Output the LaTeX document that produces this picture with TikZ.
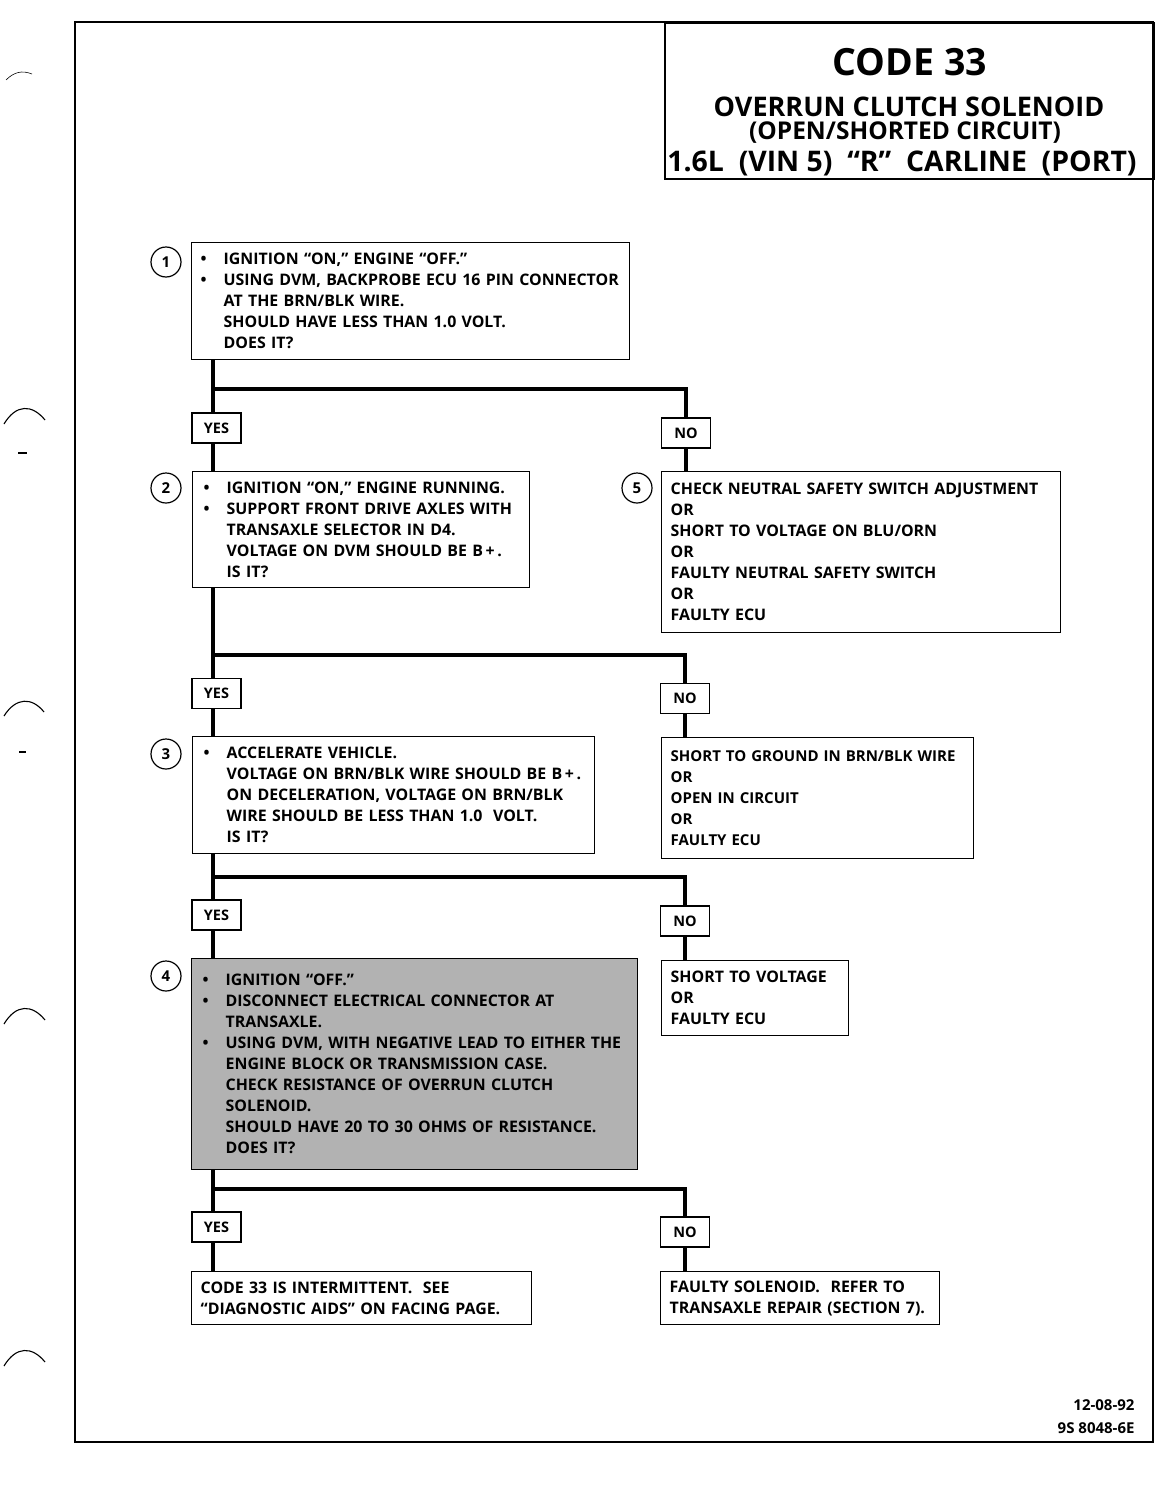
\documentclass[tikz,border=0pt]{standalone}
\usepackage{fontspec}
\setmainfont{Open Sans}
\newcommand\mybul{\makebox[24pt][l]{\hspace{1pt}\textbullet}}
\newcommand\myind{\hspace*{24pt}}
\begin{document}
\begin{tikzpicture}[x=1pt,y=-1pt,
  box/.style={draw, line width=1.4pt, anchor=north west, align=left, inner ysep=0pt,
    font=\bfseries\fontsize{15.9}{21}\selectfont},
  yn/.style={draw, line width=1.4pt, minimum width=49pt, minimum height=30pt, inner sep=0pt,
    font=\bfseries\fontsize{14.5}{16}\selectfont},
  num/.style={draw, circle, line width=1.2pt, minimum size=30pt, inner sep=0pt,
    font=\bfseries\fontsize{15}{16}\selectfont},
  ttl/.style={anchor=base, inner sep=0pt},
  flow/.style={line width=4.6pt},
  hole/.style={line width=1.1pt}]
\useasboundingbox (0,0) rectangle (1168,1488);
% frame
\draw[line width=2.6pt] (75,22) rectangle (1153,1442);
% binder marks
\draw[hole] (4,424) .. controls (16,404) and (32,404) .. (45,420);
\draw[hole] (18,453) -- (27,453);
\draw[hole] (4,716) .. controls (16,697) and (32,697) .. (44,712);
\draw[hole] (19,752) -- (26,752);
\draw[hole] (4,1024) .. controls (16,1004) and (32,1004) .. (45,1020);
\draw[hole] (4,1366) .. controls (16,1346) and (32,1346) .. (45,1362);
\draw[line width=0.6pt] (6,80) .. controls (14,72) and (22,70) .. (32,74);
% title
\node[draw, line width=1.6pt, anchor=north west, minimum width=489pt, minimum height=156pt] (tbox) at (664,22) {};
\node[ttl, font=\bfseries\fontsize{37.5}{40}\selectfont] (t1) at (910,75) {CODE 33};
\node[ttl, font=\bfseries\fontsize{27}{30}\selectfont] (t2) at (909,116) {OVERRUN CLUTCH SOLENOID};
\node[ttl, font=\bfseries\fontsize{24.5}{26}\selectfont] (t3) at (905,139) {(OPEN/SHORTED CIRCUIT)};
\node[ttl, font=\bfseries\fontsize{28.4}{30}\selectfont] (t4) at (902,171) {1.6L\ \ (VIN 5)\ \ “R”\ \ CARLINE\ \ (PORT)};
% step boxes
\node[box, inner xsep=8pt, text width=422pt, minimum height=117pt] (b1) at (191,242)
 {\mybul IGNITION “ON,” ENGINE “OFF.”\\
  \mybul USING DVM, BACKPROBE ECU 16 PIN CONNECTOR\\
  \myind AT THE BRN/BLK WIRE.\\
  \myind SHOULD HAVE LESS THAN 1.0 VOLT.\\
  \myind DOES IT?};
\node[box, inner xsep=10pt, text width=317pt, minimum height=116pt] (b2) at (192,471)
 {\mybul IGNITION “ON,” ENGINE RUNNING.\\
  \mybul SUPPORT FRONT DRIVE AXLES WITH\\
  \myind TRANSAXLE SELECTOR IN D4.\\
  \myind VOLTAGE ON DVM SHOULD BE B\,+\,.\\
  \myind IS IT?};
\node[box, inner xsep=9pt, text width=381pt, minimum height=161pt] (b5) at (661,471)
 {CHECK NEUTRAL SAFETY SWITCH ADJUSTMENT\\
  OR\\
  SHORT TO VOLTAGE ON BLU/ORN\\
  OR\\
  FAULTY NEUTRAL SAFETY SWITCH\\
  OR\\
  FAULTY ECU};
\node[box, inner xsep=10pt, text width=382pt, minimum height=117pt] (b3) at (192,736)
 {\mybul ACCELERATE VEHICLE.\\
  \myind VOLTAGE ON BRN/BLK WIRE SHOULD BE B\,+\,.\\
  \myind ON DECELERATION, VOLTAGE ON BRN/BLK\\
  \myind WIRE SHOULD BE LESS THAN 1.0\ \ VOLT.\\
  \myind IS IT?};
\node[box, inner xsep=9pt, text width=294pt, minimum height=121pt,
      font=\bfseries\fontsize{15}{21}\selectfont] (r2) at (661,737)
 {SHORT TO GROUND IN BRN/BLK WIRE\\
  OR\\
  OPEN IN CIRCUIT\\
  OR\\
  FAULTY ECU};
\node[box, fill=black!30, inner xsep=10pt, text width=426pt, minimum height=211pt] (b4) at (191,958)
 {\mybul IGNITION “OFF.”\\
  \mybul DISCONNECT ELECTRICAL CONNECTOR AT\\
  \myind TRANSAXLE.\\
  \mybul USING DVM, WITH NEGATIVE LEAD TO EITHER THE\\
  \myind ENGINE BLOCK OR TRANSMISSION CASE.\\
  \myind CHECK RESISTANCE OF OVERRUN CLUTCH\\
  \myind SOLENOID.\\
  \myind SHOULD HAVE 20 TO 30 OHMS OF RESISTANCE.\\
  \myind DOES IT?};
\node[box, inner xsep=9pt, text width=169pt, minimum height=75pt] (r3) at (661,960)
 {SHORT TO VOLTAGE\\
  OR\\
  FAULTY ECU};
\node[box, inner xsep=9pt, text width=322pt, minimum height=53pt] (fy) at (191,1271)
 {CODE 33 IS INTERMITTENT.\ \ SEE\\
  “DIAGNOSTIC AIDS” ON FACING PAGE.};
\node[box, inner xsep=9pt, text width=261pt, minimum height=53pt] (fn) at (660,1271)
 {FAULTY SOLENOID.\ \ REFER TO\\
  TRANSAXLE REPAIR (SECTION 7).};
% step numbers
\node[num] (n1) at (166,262) {1};
\node[num] (n2) at (166,488) {2};
\node[num] (n3) at (166,754) {3};
\node[num] (n4) at (166,976) {4};
\node[num] (n5) at (637,488) {5};
% yes / no labels
\node[yn] (y1) at (216.5,428) {YES};
\node[yn] (o1) at (686,433) {NO};
\node[yn] (y2) at (216.5,693.5) {YES};
\node[yn] (o2) at (685,698.5) {NO};
\node[yn] (y3) at (216.5,915) {YES};
\node[yn] (o3) at (685,921) {NO};
\node[yn] (y4) at (216.5,1227) {YES};
\node[yn] (o4) at (685,1232) {NO};
% connectors
\coordinate (tr) at (213,0);
\coordinate (j1) at (0,389);
\coordinate (j2) at (0,655);
\coordinate (j3) at (0,877);
\coordinate (j4) at (0,1189);
\draw[flow] (b1.south -| tr) -- (y1.north -| tr);
\draw[flow] (tr |- j1) -| (o1.north);
\draw[flow] (y1.south -| tr) -- (b2.north -| tr);
\draw[flow] (o1.south) -- (b5.north -| o1.south);
\draw[flow] (b2.south -| tr) -- (y2.north -| tr);
\draw[flow] (tr |- j2) -| (o2.north);
\draw[flow] (y2.south -| tr) -- (b3.north -| tr);
\draw[flow] (o2.south) -- (r2.north -| o2.south);
\draw[flow] (b3.south -| tr) -- (y3.north -| tr);
\draw[flow] (tr |- j3) -| (o3.north);
\draw[flow] (y3.south -| tr) -- (b4.north -| tr);
\draw[flow] (o3.south) -- (r3.north -| o3.south);
\draw[flow] (b4.south -| tr) -- (y4.north -| tr);
\draw[flow] (tr |- j4) -| (o4.north);
\draw[flow] (y4.south -| tr) -- (fy.north -| tr);
\draw[flow] (o4.south) -- (fn.north -| o4.south);
% footer
\node[anchor=east, font=\bfseries\fontsize{15}{16}\selectfont] (d1) at (1138,1405) {12-08-92};
\node[anchor=east, font=\bfseries\fontsize{15}{16}\selectfont] (d2) at (1138,1428) {9S 8048-6E};
\end{tikzpicture}
\end{document}
